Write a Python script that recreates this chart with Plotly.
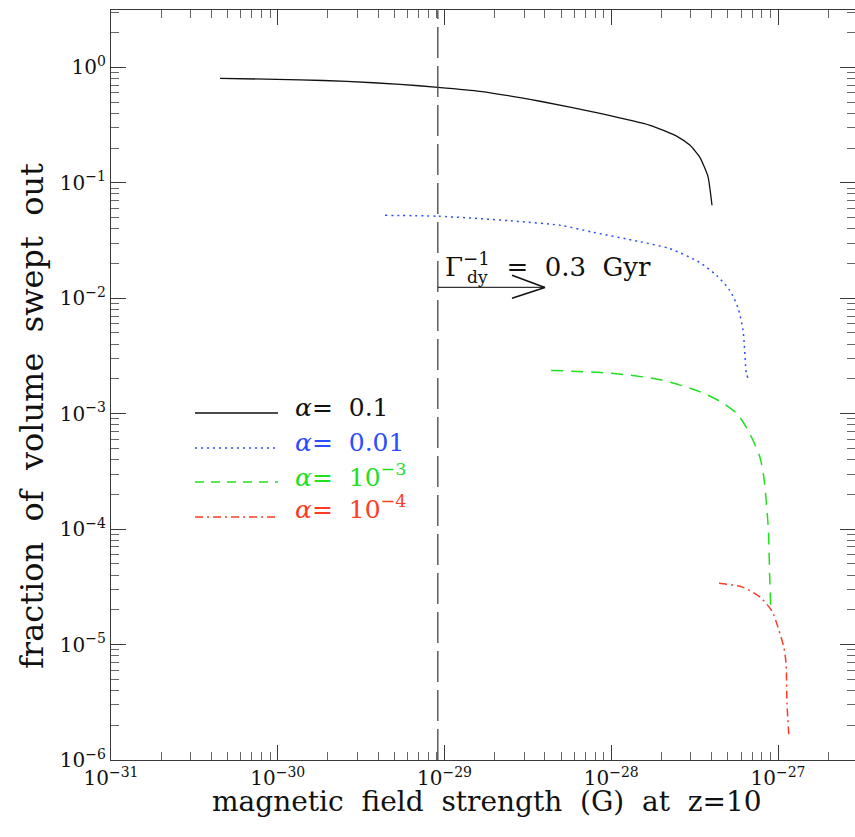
import plotly.graph_objects as go

# ---------------- data ----------------
black_x = [4.51e-31, 1.36e-30, 2.60e-30, 5.41e-30, 9.14e-30, 1.63e-29, 3.74e-29, 8.56e-29,
           1.71e-28, 2.48e-28, 2.97e-28, 3.40e-28, 3.80e-28, 4.02e-28]
black_y = [0.803, 0.779, 0.756, 0.712, 0.671, 0.620, 0.508, 0.399,
           0.3145, 0.2525, 0.211, 0.166, 0.1137, 0.0638]

blue_x = [4.4e-30, 9.1e-30, 2.5e-29, 5.0e-29, 7.8e-29, 1.48e-28, 2.24e-28, 3.39e-28, 4.27e-28, 5.13e-28, 5.75e-28, 6.17e-28, 6.46e-28, 6.6e-28]
blue_y = [0.0522, 0.0513, 0.0468, 0.0427, 0.0372, 0.0309, 0.0269, 0.0204, 0.0158, 0.0117, 0.0083, 0.00525, 0.00224, 0.00204]

green_x = [4.36e-29, 1.0e-28, 1.86e-28, 2.69e-28, 3.55e-28, 4.57e-28, 5.68e-28, 6.76e-28, 7.8e-28, 8.22e-28, 8.75e-28, 8.91e-28, 9.03e-28]
green_y = [0.00237, 0.00224, 0.0020, 0.00174, 0.00151, 0.00126, 0.0010, 6.76e-4, 4.17e-4, 2.82e-4, 1.0e-4, 3.98e-5, 2.19e-5]

red_x = [4.43e-28, 6.08e-28, 7.8e-28, 9.2e-28, 1.0e-27, 1.086e-27, 1.117e-27, 1.132e-27, 1.164e-27]
red_y = [3.39e-5, 3.16e-5, 2.57e-5, 1.95e-5, 1.41e-5, 9.33e-6, 6.92e-6, 3.09e-6, 1.55e-6]

series_labels = ["0.1", "0.01", "10<sup>−3</sup>", "10<sup>−4</sup>"]

# dynamical-time marker (Gamma_dy^-1 = 0.3 Gyr)
tdy_x = [9.12e-30, 9.12e-30]
tdy_y = [1e-6, 3.12]
arrow_x = [9.12e-30, 4.0e-29]
arrow_y = [0.0124, 0.0124]
head_x = [2.54e-29, 4.0e-29, 2.54e-29]
head_y = [0.0158, 0.0124, 0.0100]

x_major = [1e-31, 1e-30, 1e-29, 1e-28, 1e-27]
x_major_text = ["10<sup>−31</sup>", "10<sup>−30</sup>", "10<sup>−29</sup>", "10<sup>−28</sup>", "10<sup>−27</sup>"]
y_major = [1e-6, 1e-5, 1e-4, 1e-3, 1e-2, 1e-1, 1e0]
y_major_text = ["10<sup>−6</sup>", "10<sup>−5</sup>", "10<sup>−4</sup>", "10<sup>−3</sup>",
                "10<sup>−2</sup>", "10<sup>−1</sup>", "10<sup>0</sup>"]

# ---------------- styling ----------------
FONT = "DejaVu Serif"
BLUE = "#2b4dff"
GREEN = "#1fe01f"
RED = "#ff3b26"
AXC = "#3a3a3a"
NB = "\u00a0"

x_minor = [k * 10.0 ** n for n in range(-31, -26) for k in range(2, 10)]
y_minor = [k * 10.0 ** n for n in range(-6, 1) for k in range(2, 10)]

fig = go.Figure()

fig.add_trace(go.Scatter(x=black_x, y=black_y, mode="lines",
                         line=dict(color="#111111", width=1.3, shape="spline", smoothing=0.5),
                         showlegend=False))
fig.add_trace(go.Scatter(x=blue_x, y=blue_y, mode="lines",
                         line=dict(color=BLUE, width=1.5, dash="2px,4px", shape="spline", smoothing=0.7),
                         showlegend=False))
fig.add_trace(go.Scatter(x=green_x, y=green_y, mode="lines",
                         line=dict(color=GREEN, width=1.5, dash="12px,8px", shape="spline", smoothing=0.7),
                         showlegend=False))
fig.add_trace(go.Scatter(x=red_x, y=red_y, mode="lines",
                         line=dict(color=RED, width=1.5, dash="8px,4px,2px,4px", shape="spline", smoothing=0.7),
                         showlegend=False))

fig.add_trace(go.Scatter(x=tdy_x, y=tdy_y, mode="lines",
                         line=dict(color="#444444", width=1.3, dash="31px,8px"), showlegend=False))
fig.add_trace(go.Scatter(x=arrow_x, y=arrow_y, mode="lines",
                         line=dict(color="#333333", width=1.2), showlegend=False))
fig.add_trace(go.Scatter(x=head_x, y=head_y, mode="lines",
                         line=dict(color="#111111", width=1.6), showlegend=False))

W, H = 855, 837
ml, mr, mt, mb = 111, 0, 10, 77
pw, ph = W - ml - mr, H - mt - mb


def px(xp):
    return (xp - ml) / pw


def py(yp):
    return (H - mb - yp) / ph


# manual legend
leg_colors = ["#111111", BLUE, GREEN, RED]
leg_dash = ["solid", "2px,4px", "9px,7px", "8px,4px,2px,4px"]
leg_line_y = [413, 448, 482, 517]
leg_text_y = [407, 442, 475, 508]
shapes = []
annotations = []
for i in range(4):
    shapes.append(dict(type="line", xref="paper", yref="paper",
                       x0=px(195), x1=px(278), y0=py(leg_line_y[i]), y1=py(leg_line_y[i]),
                       line=dict(color=leg_colors[i], width=1.3, dash=leg_dash[i])))
    annotations.append(dict(xref="paper", yref="paper", x=px(293), y=py(leg_text_y[i]),
                            xanchor="left", yanchor="middle", showarrow=False,
                            text="<i>α</i>=" + NB * 2 + series_labels[i],
                            font=dict(family=FONT, size=25, color=leg_colors[i])))

# Gamma annotation
annotations.append(dict(xref="paper", yref="paper", x=px(443), y=py(265),
                        xanchor="left", yanchor="middle", showarrow=False,
                        text="Γ<sup>−1</sup>" + NB * 2 + "=" + NB * 2 + "0.3" + NB * 2 + "Gyr",
                        font=dict(family=FONT, size=26, color="#111111")))
annotations.append(dict(xref="paper", yref="paper", x=px(465), y=py(277),
                        xanchor="left", yanchor="middle", showarrow=False,
                        text="dy", font=dict(family=FONT, size=17, color="#111111")))

# axis titles
annotations.append(dict(xref="paper", yref="paper", x=px(487), y=py(801),
                        xanchor="center", yanchor="middle", showarrow=False,
                        text=(NB * 2).join(["magnetic", "field", "strength", "(G)", "at", "z=10"]),
                        font=dict(family=FONT, size=28, color="#111111")))
annotations.append(dict(xref="paper", yref="paper", x=px(32), y=py(416),
                        xanchor="center", yanchor="middle", showarrow=False, textangle=-90,
                        text=(NB * 2).join(["fraction", "of", "volume", "swept", "out"]),
                        font=dict(family=FONT, size=32, color="#111111")))

axis_common = dict(type="log", showgrid=False, zeroline=False, showline=True,
                   linecolor=AXC, linewidth=1.4, mirror="allticks",
                   ticks="inside", ticklen=15, tickwidth=1.2, tickcolor=AXC,
                   tickfont=dict(family=FONT, size=20, color="#111111"))

fig.update_layout(
    width=W, height=H,
    margin=dict(l=ml, r=mr, t=mt, b=mb, autoexpand=False),
    plot_bgcolor="white", paper_bgcolor="white",
    showlegend=False,
    xaxis=dict(range=[-31, -31 + pw / 166.75], tickvals=x_major, ticktext=x_major_text,
               minor=dict(tickvals=x_minor, ticks="inside", ticklen=8, tickwidth=1.0, tickcolor="#666666"),
               **axis_common),
    yaxis=dict(range=[-6, -6 + ph / 115.45], tickvals=y_major, ticktext=y_major_text,
               minor=dict(tickvals=y_minor, ticks="inside", ticklen=8, tickwidth=1.0, tickcolor="#666666"),
               **axis_common),
    shapes=shapes,
    annotations=annotations,
)

fig.write_html("out.html")
